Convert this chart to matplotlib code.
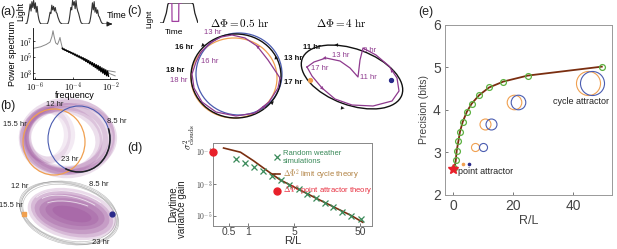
import numpy as np
import matplotlib
matplotlib.use('Agg')
import matplotlib.pyplot as plt
from matplotlib.patches import Ellipse, Arc

W, H = 617, 249
plt.rcParams['font.family'] = ['Liberation Sans', 'DejaVu Sans']
plt.rcParams['mathtext.fontset'] = 'cm'

# ---------------- data ----------------
# (a) daily light profiles (hourly, daylight hours 2..18)
day_profiles = [
    [0.02, 0.15, 0.35, 0.6, 0.85, 0.55, 0.95, 0.7, 1.0, 0.65, 0.9, 0.5, 0.75, 0.4, 0.2, 0.08, 0.02],
    [0.02, 0.12, 0.3, 0.5, 0.45, 0.8, 0.6, 0.75, 0.55, 0.7, 0.5, 0.45, 0.3, 0.2, 0.1, 0.05, 0.02],
    [0.02, 0.15, 0.4, 0.7, 0.6, 1.0, 0.8, 0.95, 0.65, 1.0, 0.7, 0.55, 0.45, 0.3, 0.15, 0.05, 0.02],
    [0.02, 0.1, 0.3, 0.55, 0.9, 0.6, 0.95, 0.5, 0.7, 0.45, 0.6, 0.35, 0.3, 0.2, 0.1, 0.04, 0.02],
]
night_before = [0.0, 0.0]
night_after = [0.0, 0.0, 0.0, 0.0, 0.0]

# (a) power spectrum (log10 frequency, log10 power)
gray_lf = [-6.1, -5.7, -5.4, -5.2, -5.1, -5.04, -4.98, -4.9, -4.8, -4.72, -4.67, -4.62, -4.55, -4.4, -4.0, -3.5, -3.0, -2.5, -2.0, -1.75]
gray_lp = [6.1, 6.3, 6.6, 6.9, 7.6, 8.35, 7.6, 6.8, 6.6, 7.1, 7.5, 6.9, 6.2, 5.95, 5.45, 4.8, 4.1, 3.4, 2.85, 2.6]
gray2_lf = [-2.6, -2.2, -1.75]
gray2_lp = [3.55, 3.3, 3.1]
black_lf = [-4.55, -4.50, -4.45, -4.40, -4.35, -4.30, -4.25, -4.20, -4.15, -4.10,
            -4.05, -4.00, -3.95, -3.90, -3.85, -3.80, -3.75, -3.70, -3.65, -3.60,
            -3.55, -3.50, -3.45, -3.40, -3.35, -3.30, -3.25, -3.20, -3.15, -3.10,
            -3.05, -3.00, -2.95, -2.90, -2.85, -2.80, -2.75, -2.70, -2.65, -2.60,
            -2.55, -2.50, -2.45, -2.40, -2.35, -2.30, -2.25, -2.20, -2.15, -2.10]
black_lp = [6.12, 5.95, 6.01, 5.84, 5.90, 5.72, 5.80, 5.60, 5.70, 5.50,
            5.58, 5.38, 5.48, 5.25, 5.36, 5.12, 5.25, 5.00, 5.14, 4.88,
            5.02, 4.74, 4.92, 4.60, 4.80, 4.44, 4.68, 4.30, 4.55, 4.14,
            4.40, 4.00, 4.28, 3.82, 4.15, 3.66, 4.02, 3.48, 3.92, 3.30,
            3.78, 3.12, 3.62, 2.95, 3.50, 2.78, 3.35, 2.62, 3.20, 2.55]

# (c) light pulse inset (hours, light)
pulse_t = [0, 2, 4, 5, 6, 20, 21, 22, 24]
pulse_v = [0, 0, 0.5, 0.95, 1, 1, 0.95, 0.5, 0]
pulse_dip_t = [6, 7.5, 7.6, 11.8, 11.9, 13.5]
pulse_dip_v = [1, 1, 0.08, 0.08, 1, 1]

# (d) variance gain
sim_rl = [0.66, 0.9, 1.23, 1.67, 2.29, 3.1, 4.2, 5.8, 7.9, 10.7, 14.7, 19.6, 27, 37, 51]
sim_logvar = [-1.47, -1.71, -1.96, -2.22, -2.49, -2.78, -3.08, -3.33, -3.63, -3.88, -4.18, -4.41, -4.71, -4.96, -5.19]
cyc_rl = [0.42, 0.76, 1.2, 1.9, 3.05, 5.8, 10.7, 19.6, 37, 55]
cyc_logvar = [-0.78, -1.04, -1.57, -2.16, -2.75, -3.33, -3.88, -4.41, -4.96, -5.37]
point_logvar = -1.0

# (e) precision
prec_rl = [0.45, 0.9, 1.2, 1.8, 2.3, 3.2, 4.6, 6.2, 8.7, 12, 16.8, 24.9, 49.6]
prec_bits = [2.63, 2.82, 3.04, 3.28, 3.49, 3.72, 3.96, 4.15, 4.35, 4.53, 4.67, 4.81, 5.02]
point_rl, point_bits = 0.0, 2.62
glyph_orange_x = [45.0, 20.3, 10.8, 7.3]
glyph_blue_x = [46.3, 21.7, 12.5, 10.1]
glyph_y = [4.64, 4.19, 3.68, 3.12]
glyph_size = [17.3, 10.5, 7.9, 5.8]
dot_orange_x, dot_blue_x, dot_y = 3.4, 5.4, 2.72

ORANGE = '#f0a050'
BLUE = '#4a5cb0'
PURPLE = '#8e3a8e'
NAVY = '#2a2a8a'

fig = plt.figure(figsize=(W / 100, H / 100), dpi=100)


def px_axes(x0, y0, x1, y1):
    return fig.add_axes([x0 / W, 1 - y1 / H, (x1 - x0) / W, (y1 - y0) / H])


# overlay for schematic drawings / labels (pixel coordinates)
ov = fig.add_axes([0, 0, 1, 1])
ov.set_xlim(0, W)
ov.set_ylim(H, 0)
ov.axis('off')

lab = dict(fontsize=9, color='#222')
ov.text(0, 12, '(a)', **lab, va='center')
ov.text(0, 106, '(b)', **lab, va='center')
ov.text(127, 11, '(c)', **lab, va='center')
ov.text(127, 148, '(d)', **lab, va='center')
ov.text(418, 12, '(e)', **lab, va='center')

# ---------------- (a) light series ----------------
light = []
for prof in day_profiles:
    light += night_before + prof + night_after
light += [0.0]
hours = list(range(len(light)))
axl = px_axes(25, 0, 108, 24)
axl.plot(hours, light, color='#333', lw=0.8)
axl.set_xlim(0, len(light) - 1)
axl.set_ylim(0, 1.02)
axl.axis('off')
axl.annotate('', xy=(len(light) + 7, 0), xytext=(len(light) - 1.5, 0),
             arrowprops=dict(arrowstyle='-|>', color='#222', lw=0.8, mutation_scale=7),
             annotation_clip=False)
ov.text(21, 11, 'Light', rotation=90, fontsize=6.2, ha='center', va='center')
ov.text(117, 15, 'Time', fontsize=6.5, ha='center', va='center')

# power spectrum
axp = px_axes(33, 28, 117, 79)
axp.plot(10 ** np.array(gray_lf), 10 ** np.array(gray_lp), color='#888', lw=0.7)
axp.plot(10 ** np.array(gray2_lf), 10 ** np.array(gray2_lp), color='#888', lw=0.7)
axp.plot(10 ** np.array(black_lf), 10 ** np.array(black_lp), color='k', lw=1.0)
axp.set_xscale('log')
axp.set_yscale('log')
axp.set_xlim(10 ** -6.1, 10 ** -1.65)
axp.set_ylim(10 ** 2.2, 10 ** 8.7)
axp.set_xticks([1e-6, 1e-4, 1e-2])
axp.set_xticklabels(['$10^{-6}$', '$10^{-4}$', '$10^{-2}$'])
axp.set_yticks([1e3, 1e5, 1e7])
axp.set_yticklabels(['$10^{3}$', '$10^{5}$', '$10^{7}$'])
axp.minorticks_off()
axp.tick_params(labelsize=6, length=1.5, width=0.5, pad=0.5, direction='in')
for s in ['top', 'right']:
    axp.spines[s].set_visible(False)
for s in ['left', 'bottom']:
    axp.spines[s].set_linewidth(0.6)
axp.set_xlabel('frequency', fontsize=6.5, labelpad=-1)
axp.set_ylabel('Power spectrum', fontsize=6.5, labelpad=1)
axp.patch.set_alpha(0)

# ---------------- (b) schematic ----------------
# top: purple shading
for dx, dy, rx, ry, a, lw in [(0, 0, 84, 68, 0, 9), (-3, 1, 80, 64, 5, 6), (2, -1, 86, 70, -5, 4),
                              (-6, 2, 76, 62, 8, 5), (4, 0, 88, 66, 0, 3)]:
    ov.add_patch(Ellipse((67 + dx, 138 + dy), rx, ry, angle=a, fill=False,
                         edgecolor=PURPLE, lw=lw, alpha=0.16))
for dx, rx in [(-14, 40), (-10, 46)]:
    ov.add_patch(Ellipse((52 + dx / 3, 135), rx, 50, angle=0, fill=False,
                         edgecolor=PURPLE, lw=5, alpha=0.1))
ov.add_patch(Ellipse((54, 142), 62, 66, fill=False, edgecolor=ORANGE, lw=0.9))
ov.add_patch(Ellipse((79, 139), 62, 66, fill=False, edgecolor=BLUE, lw=0.8))
ov.add_patch(Arc((79, 139), 62, 66, theta1=-20, theta2=115, edgecolor='#222', lw=1.1))
sm = dict(fontsize=5.5, color='#222', ha='center', va='center')
ov.text(55, 104, '12 hr', **sm)
ov.text(15, 124, '15.5 hr', **sm)
ov.text(117, 121, '8.5 hr', **sm)
ov.text(70, 159, '23 hr', **sm)

# bottom: gray outlines + purple lens
for rx, ry, a in [(100, 60, 14), (97, 57, 15), (94, 55, 13), (102, 58, 16), (98, 62, 12)]:
    ov.add_patch(Ellipse((69, 213), rx, ry, angle=a, fill=False, edgecolor='#999',
                         lw=0.5, alpha=0.6))
for rx, ry, a, al in [(90, 50, 12, 0.18), (84, 44, 14, 0.2), (76, 38, 12, 0.22),
                      (66, 30, 10, 0.22), (54, 22, 12, 0.2), (40, 14, 14, 0.2)]:
    ov.add_patch(Ellipse((72, 214), rx, ry, angle=a, facecolor=PURPLE, edgecolor='none', alpha=al))
for rx, ry, a in [(70, 30, 14), (58, 20, 10), (80, 40, 12)]:
    ov.add_patch(Arc((72, 212), rx, ry, angle=a, theta1=190, theta2=330, edgecolor='white',
                     lw=0.6, alpha=0.7))
ov.plot([24], [214], 's', color=ORANGE, ms=3.2)
ov.plot([112], [214], 'o', color=NAVY, ms=3.5)
ov.text(20, 186, '12 hr', **sm)
ov.text(11, 205, '15.5 hr', **sm)
ov.text(99, 184, '8.5 hr', **sm)
ov.text(101, 242, '23 hr', **sm)

# ---------------- (c) ----------------
axc = px_axes(160, 3, 198, 23)
axc.plot(pulse_t, pulse_v, color='#222', lw=0.9)
axc.plot(pulse_dip_t, pulse_dip_v, color='#a040a0', lw=0.9)
axc.set_xlim(0, 24)
axc.set_ylim(0, 1)
axc.axis('off')
ov.text(150, 19, 'Light', rotation=90, fontsize=6, ha='center', va='center')
ov.text(174, 32, 'Time', fontsize=6, ha='center', va='center')

ov.text(240, 23, r'$\Delta\Phi = 0.5\ \mathrm{hr}$', fontsize=8, ha='center', va='center')
ov.text(341, 23, r'$\Delta\Phi = 4\ \mathrm{hr}$', fontsize=8, ha='center', va='center')

# circle 1
ov.add_patch(Ellipse((234, 78), 86, 80, fill=False, edgecolor=ORANGE, lw=0.9))
ov.add_patch(Ellipse((239, 74), 86, 82, fill=False, edgecolor=BLUE, lw=0.9))
ov.add_patch(Ellipse((236, 76), 90, 84, fill=False, edgecolor='#111', lw=1.0))
c1_purple = [(280, 78), (268, 60), (257, 46), (245, 38), (232, 35), (221, 37), (210, 43),
             (201, 52), (196, 62), (192, 74), (194, 88), (202, 102), (216, 112), (236, 116),
             (255, 113), (269, 102), (278, 88), (280, 78)]
ov.plot([p[0] for p in c1_purple], [p[1] for p in c1_purple], color=PURPLE, lw=0.9)


def arrow(x, y, dx, dy, color):
    ov.annotate('', xy=(x + dx * 2.5, y + dy * 2.5), xytext=(x - dx * 1.0, y - dy * 1.0),
                arrowprops=dict(arrowstyle='-|>', color=color, lw=0.1, mutation_scale=6))


arrow(203, 45, -0.7, 0.7, '#111')
arrow(272, 103, 0.7, -0.7, '#111')
arrow(276, 58, -0.3, -0.95, '#111')
arrow(258, 47, -0.8, -0.6, PURPLE)
arrow(264, 107, 0.8, -0.6, PURPLE)
ov.text(184, 47, '16 hr', fontsize=5.5, color='#111', ha='center', va='center', fontweight='bold')
ov.text(175, 70, '18 hr', fontsize=5.5, color='#111', ha='center', va='center', fontweight='bold')
ov.text(213, 32, '13 hr', fontsize=5.5, color=PURPLE, ha='center', va='center')
ov.text(210, 61, '16 hr', fontsize=5.5, color=PURPLE, ha='center', va='center')
ov.text(179, 80, '18 hr', fontsize=5.5, color=PURPLE, ha='center', va='center')

# circle 2
ov.add_patch(Ellipse((352, 77), 106, 56, angle=20, fill=False, edgecolor='#111', lw=1.0))
c2_purple = [(307, 67), (312, 76), (322, 88), (335, 99), (352, 105), (373, 106), (392, 101),
             (399, 91), (397, 78), (389, 66), (376, 55), (363, 48), (360, 60), (358, 77),
             (350, 68), (340, 61), (326, 58), (314, 62), (307, 67)]
ov.plot([p[0] for p in c2_purple], [p[1] for p in c2_purple], color=PURPLE, lw=0.9)
arrow(337, 45, -1, 0, '#111')
arrow(342, 108, 1, 0.1, '#111')
arrow(392, 71, -0.5, -0.85, PURPLE)
arrow(322, 88, 0.7, 0.7, PURPLE)
arrow(325, 58, -1, 0.15, PURPLE)
ov.plot([310], [80], 'o', color=ORANGE, ms=2.8)
ov.plot([391], [80], 'o', color=NAVY, ms=2.8)
ov.text(312, 47, '11 hr', fontsize=5.5, color='#111', ha='center', va='center', fontweight='bold')
ov.text(293, 58, '13 hr', fontsize=5.5, color='#111', ha='center', va='center', fontweight='bold')
ov.text(293, 82, '17 hr', fontsize=5.5, color='#111', ha='center', va='center', fontweight='bold')
ov.text(370, 50, '8 hr', fontsize=5.5, color=PURPLE, ha='center', va='center')
ov.text(341, 55, '13 hr', fontsize=5.5, color=PURPLE, ha='center', va='center')
ov.text(320, 68, '17 hr', fontsize=5.5, color=PURPLE, ha='center', va='center')
ov.text(368, 77, '11 hr', fontsize=5.5, color=PURPLE, ha='center', va='center')

# ---------------- (d) ----------------
axd = px_axes(213, 143, 372, 226)
axd.plot(cyc_rl, 10 ** np.array(cyc_logvar), color='#7a2e10', lw=1.2,
         label=r'$\Delta\Phi^2$ limit cycle theory')
axd.plot(sim_rl, 10 ** np.array(sim_logvar), 'x', color='#3a8a5a', ms=4.5, mew=0.9,
         label='Random weather\nsimulations')
xl = (0.29, 76)
axd.plot([xl[0]], [10 ** point_logvar], 'o', color='#e8202a', ms=5, clip_on=False, zorder=5,
         label=r'$\Delta\Phi^2$ point attractor theory')
axd.set_xscale('log')
axd.set_yscale('log')
axd.set_xlim(*xl)
axd.set_ylim(10 ** -5.6, 10 ** -0.47)
axd.set_xticks([0.5, 1, 5, 50])
axd.set_xticklabels(['0.5', '1', '5', '50'])
axd.set_yticks([1e-5, 1e-3, 1e-1])
axd.set_yticklabels(['$10^{-5}$', '$10^{-3}$', '$10^{-1}$'])
axd.minorticks_off()
axd.tick_params(axis='x', labelsize=7.5, length=2, width=0.5, pad=1, direction='in', colors='#444')
axd.tick_params(axis='y', labelsize=5.5, length=2, width=0.5, pad=0.5, direction='in', colors='#444')
for s in axd.spines.values():
    s.set_color('#888')
    s.set_linewidth(0.7)
axd.set_xlabel('R/L', fontsize=8, color='#333', labelpad=-1)
h, l = axd.get_legend_handles_labels()
leg = axd.legend([h[1], h[0], h[2]], [l[1], l[0], l[2]], loc='upper right', fontsize=5.5,
                 frameon=False, handlelength=1.0, handletextpad=0.3, borderaxespad=0.2,
                 labelspacing=0.25, bbox_to_anchor=(1.03, 0.97))
for t, c in zip(leg.get_texts(), ['#3a8a5a', '#b08040', '#e83040']):
    t.set_color(c)
ov.text(173, 204, 'Daytime', rotation=90, fontsize=7, ha='center', va='center', color='#222')
ov.text(182, 209, 'variance gain', rotation=90, fontsize=7, ha='center', va='center', color='#222')
ov.text(190, 137, r'$\sigma^2_{\rm clouds}$', rotation=90, fontsize=7, ha='center', va='center')

# ---------------- (e) ----------------
axe = px_axes(445, 25, 612, 195)
axe.plot([point_rl] + prec_rl, [point_bits] + prec_bits, color='#7a2e10', lw=1.3, zorder=2)
axe.plot(prec_rl, prec_bits, 'o', mfc='none', mec='#5cb040', ms=4.2, mew=0.9, zorder=3)
axe.plot([point_rl], [point_bits], '*', color='#e8202a', ms=7, zorder=4)
for xo, xb, y, s in zip(glyph_orange_x, glyph_blue_x, glyph_y, glyph_size):
    axe.plot([xo], [y], 'o', mfc='none', mec=ORANGE, ms=s, mew=0.8)
    axe.plot([xb], [y], 'o', mfc='none', mec=BLUE, ms=s, mew=0.8)
axe.plot([dot_orange_x], [dot_y], 'o', color=ORANGE, ms=1.6)
axe.plot([dot_blue_x], [dot_y], 'o', color=NAVY, ms=1.6)
axe.text(42.7, 4.21, 'cycle attractor', fontsize=6.5, ha='center', va='center', color='#222')
axe.text(1.6, 2.56, 'point attractor', fontsize=6.5, ha='left', va='center', color='#222')
axe.set_xlim(-2.7, 53)
axe.set_ylim(2, 6)
axe.set_xticks([0, 20, 40])
axe.set_yticks([2, 3, 4, 5, 6])
axe.tick_params(labelsize=10, length=2.5, width=0.5, direction='in', colors='#444', pad=3)
for s in axe.spines.values():
    s.set_color('#999')
    s.set_linewidth(0.7)
axe.set_xlabel('R/L', fontsize=9, color='#444', labelpad=1)
axe.set_ylabel('Precision (bits)', fontsize=7.5, color='#444', labelpad=3)

fig.savefig('out.png', dpi=100)
